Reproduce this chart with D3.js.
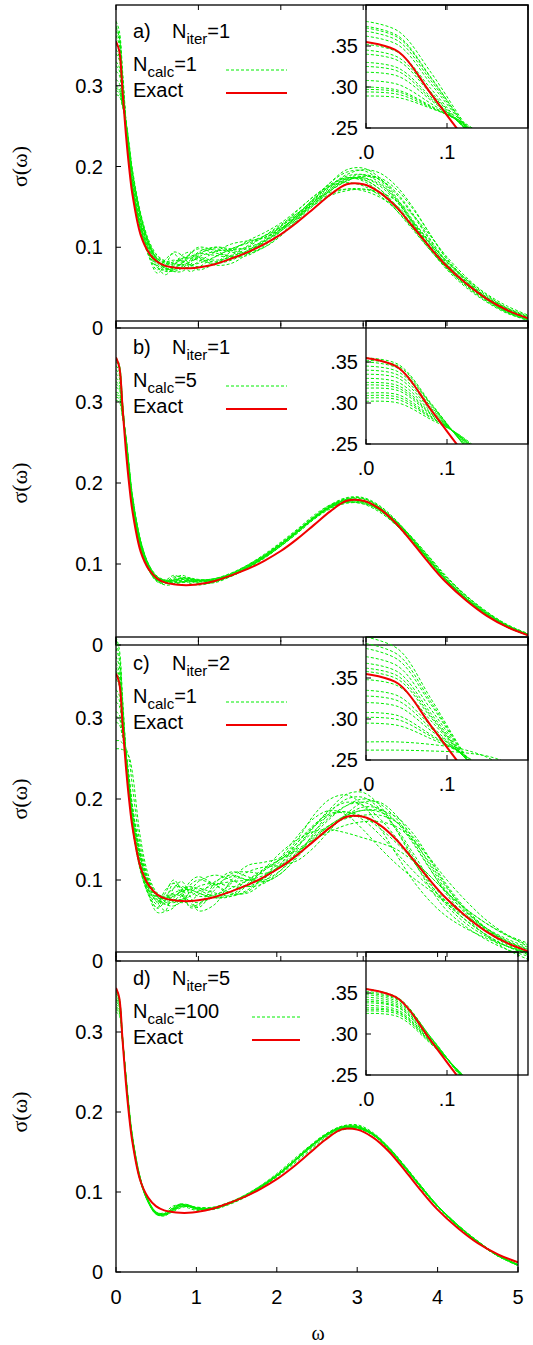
<!DOCTYPE html>
<html><head><meta charset="utf-8">
<script src="https://cdn.jsdelivr.net/npm/d3@7"></script>
<style>body{margin:0;background:#fff} svg{display:block}</style>
</head><body><svg id="c" width="533" height="1345"></svg>
<script>
// ---------------- DATA ----------------
const omega = [0,0.04,0.08,0.12,0.16,0.2,0.3,0.4,0.5,0.6,0.7,0.8,0.9,1.0,1.2,1.4,1.6,1.8,2.0,2.2,2.4,2.6,2.8,3.0,3.2,3.4,3.6,3.8,4.0,4.25,4.5,4.75,5.0];
const exact = [.355,.343,.292,.240,.198,.165,.115,.093,.082,.077,.075,.074,.074,.075,.079,.086,.094,.104,.116,.131,.148,.165,.178,.178,.168,.150,.126,.101,.078,.055,.036,.022,.012];

const panelLetters = ["a)","b)","c)","d)"];
const nIter = [1,1,2,5];
const nCalc = [1,5,1,100];

const greenA = [
[.380,.368,.318,.258,.205,.168,.118,.090,.072,.085,.092,.080,.070,.075,.088,.098,.105,.112,.123,.140,.160,.180,.193,.195,.183,.160,.130,.100,.074,.050,.032,.018,.010],
[.374,.362,.312,.256,.206,.170,.120,.088,.068,.078,.094,.090,.078,.072,.080,.095,.108,.118,.130,.146,.163,.178,.186,.184,.172,.150,.124,.098,.075,.053,.035,.021,.012],
[.368,.356,.308,.255,.207,.172,.122,.093,.078,.070,.072,.082,.092,.098,.093,.090,.096,.108,.122,.140,.160,.176,.188,.190,.180,.158,.130,.101,.076,.052,.033,.019,.010],
[.362,.351,.304,.254,.208,.173,.124,.097,.084,.076,.070,.070,.078,.090,.100,.098,.098,.104,.116,.133,.152,.170,.183,.186,.178,.160,.134,.106,.080,.055,.036,.021,.011],
[.352,.342,.298,.252,.209,.175,.125,.094,.076,.066,.076,.090,.094,.088,.078,.080,.092,.106,.120,.136,.154,.172,.185,.190,.184,.166,.140,.110,.082,.055,.035,.019,.009],
[.340,.332,.292,.251,.210,.177,.127,.098,.082,.074,.074,.080,.088,.092,.090,.088,.094,.108,.126,.145,.163,.176,.180,.176,.164,.146,.124,.100,.078,.056,.038,.024,.014],
[.330,.323,.288,.252,.213,.180,.130,.100,.084,.078,.080,.084,.086,.084,.080,.084,.094,.107,.122,.138,.154,.166,.172,.172,.166,.152,.132,.108,.084,.060,.040,.025,.015],
[.318,.313,.284,.253,.217,.184,.133,.102,.086,.080,.076,.074,.076,.082,.094,.104,.108,.112,.122,.138,.158,.176,.190,.196,.192,.176,.150,.118,.087,.058,.036,.020,.011],
[.308,.303,.280,.254,.220,.188,.136,.103,.084,.074,.072,.076,.084,.094,.100,.096,.094,.100,.114,.134,.156,.174,.185,.186,.176,.157,.132,.105,.080,.055,.036,.021,.012],
[.300,.296,.277,.255,.223,.191,.138,.104,.086,.080,.082,.086,.088,.086,.082,.086,.096,.110,.126,.142,.158,.168,.172,.170,.162,.148,.128,.106,.084,.061,.042,.027,.016],
[.294,.291,.275,.256,.226,.194,.140,.106,.088,.082,.078,.078,.082,.088,.095,.097,.100,.108,.120,.136,.152,.164,.170,.172,.168,.158,.140,.116,.090,.063,.041,.024,.013],
[.289,.287,.274,.257,.228,.196,.142,.108,.090,.083,.080,.078,.078,.080,.088,.098,.106,.114,.124,.138,.154,.170,.182,.188,.186,.172,.148,.118,.088,.060,.038,.022,.012],
[.372,.360,.311,.256,.206,.170,.121,.091,.075,.072,.078,.086,.090,.088,.084,.088,.100,.114,.128,.142,.156,.170,.182,.188,.184,.168,.142,.112,.084,.058,.038,.023,.013],
[.345,.336,.294,.252,.210,.176,.126,.096,.080,.072,.070,.074,.082,.092,.098,.094,.092,.100,.116,.136,.158,.180,.196,.198,.186,.162,.132,.102,.076,.052,.034,.020,.011],
[.325,.319,.286,.252,.214,.181,.131,.101,.086,.082,.084,.082,.078,.076,.080,.090,.102,.114,.126,.140,.156,.172,.184,.184,.172,.152,.128,.103,.080,.057,.038,.024,.014],
[.297,.294,.276,.255,.224,.192,.139,.105,.085,.074,.072,.080,.092,.100,.096,.088,.090,.102,.120,.140,.160,.176,.186,.182,.168,.146,.122,.098,.076,.054,.036,.022,.012]
];
const greenB = [
[.355,.347,.300,.250,.204,.168,.118,.092,.080,.080,.086,.082,.076,.074,.078,.086,.096,.108,.122,.138,.155,.170,.180,.180,.170,.152,.130,.105,.081,.056,.037,.022,.012],
[.350,.342,.298,.250,.205,.170,.119,.092,.078,.076,.082,.086,.082,.077,.077,.085,.096,.109,.124,.141,.158,.172,.180,.178,.167,.149,.127,.103,.080,.056,.037,.022,.012],
[.345,.338,.296,.251,.207,.171,.120,.093,.080,.078,.080,.082,.081,.079,.080,.087,.097,.110,.125,.141,.157,.170,.177,.176,.166,.149,.128,.105,.082,.058,.039,.024,.013],
[.340,.334,.294,.252,.209,.173,.121,.094,.080,.077,.078,.079,.079,.078,.080,.088,.099,.112,.127,.143,.160,.173,.179,.177,.166,.148,.126,.103,.080,.057,.038,.023,.013],
[.335,.330,.292,.253,.210,.174,.122,.094,.079,.074,.075,.078,.080,.080,.082,.088,.098,.110,.124,.140,.156,.169,.176,.175,.166,.150,.130,.107,.084,.060,.040,.024,.013],
[.330,.325,.290,.254,.212,.176,.123,.095,.081,.078,.080,.083,.083,.080,.079,.085,.095,.107,.122,.139,.157,.172,.181,.181,.171,.153,.130,.105,.081,.057,.037,.022,.012],
[.325,.321,.288,.255,.214,.178,.124,.096,.082,.077,.076,.077,.078,.079,.082,.089,.099,.111,.125,.141,.157,.170,.177,.177,.168,.152,.131,.108,.084,.060,.040,.024,.013],
[.318,.315,.286,.256,.216,.180,.126,.097,.083,.079,.078,.078,.078,.078,.080,.086,.096,.109,.124,.140,.157,.171,.179,.178,.168,.151,.129,.105,.082,.058,.038,.023,.012],
[.312,.310,.284,.256,.218,.182,.127,.098,.084,.080,.081,.083,.082,.080,.080,.086,.096,.108,.122,.138,.155,.168,.175,.175,.167,.152,.132,.109,.086,.061,.041,.025,.014],
[.306,.304,.282,.257,.220,.184,.128,.099,.085,.080,.079,.080,.080,.080,.082,.088,.098,.111,.126,.142,.158,.170,.176,.174,.164,.148,.128,.105,.082,.058,.039,.024,.013],
[.302,.300,.280,.258,.222,.185,.129,.099,.084,.079,.079,.081,.082,.081,.080,.085,.095,.108,.123,.140,.158,.173,.182,.182,.172,.154,.131,.106,.082,.057,.037,.022,.012],
[.352,.345,.299,.250,.205,.169,.118,.092,.079,.078,.084,.084,.079,.076,.078,.086,.096,.108,.123,.139,.156,.171,.181,.181,.170,.151,.128,.104,.080,.056,.037,.022,.012],
[.322,.318,.287,.255,.215,.179,.125,.096,.082,.078,.077,.078,.079,.079,.081,.088,.098,.110,.124,.140,.156,.170,.178,.178,.169,.153,.132,.109,.085,.061,.041,.025,.014],
[.309,.307,.283,.257,.219,.183,.128,.098,.084,.080,.080,.081,.081,.080,.081,.087,.097,.109,.124,.140,.157,.171,.179,.178,.168,.150,.128,.105,.082,.058,.038,.023,.012]
];
const greenC = [
[.400,.385,.325,.260,.205,.165,.110,.080,.060,.062,.090,.098,.080,.062,.070,.100,.118,.122,.128,.150,.180,.200,.205,.192,.165,.132,.100,.075,.056,.040,.028,.018,.010],
[.386,.372,.318,.258,.207,.168,.112,.082,.065,.075,.096,.090,.072,.066,.088,.108,.110,.108,.118,.140,.165,.186,.196,.192,.176,.152,.124,.096,.072,.050,.032,.018,.008],
[.376,.364,.312,.257,.208,.170,.114,.084,.070,.088,.096,.082,.068,.070,.092,.104,.100,.100,.112,.132,.156,.176,.192,.200,.194,.176,.148,.116,.084,.054,.031,.014,.002],
[.368,.357,.307,.256,.210,.172,.116,.086,.075,.070,.074,.084,.094,.100,.094,.084,.084,.098,.120,.146,.168,.182,.184,.174,.156,.134,.112,.092,.074,.056,.040,.027,.017],
[.358,.348,.302,.255,.212,.175,.118,.088,.072,.062,.066,.082,.098,.104,.094,.082,.086,.104,.128,.154,.176,.186,.180,.162,.140,.120,.103,.088,.072,.054,.038,.024,.014],
[.348,.340,.298,.255,.214,.178,.121,.090,.076,.072,.078,.088,.092,.088,.080,.086,.100,.114,.126,.136,.148,.164,.180,.190,.188,.172,.146,.115,.086,.060,.040,.025,.015],
[.335,.328,.292,.255,.217,.181,.124,.092,.078,.078,.082,.080,.074,.072,.080,.096,.110,.116,.118,.124,.140,.162,.182,.196,.196,.180,.152,.120,.088,.058,.036,.020,.010],
[.320,.315,.286,.256,.220,.185,.127,.094,.080,.076,.074,.072,.074,.082,.098,.106,.100,.098,.108,.130,.158,.184,.200,.202,.188,.162,.130,.098,.070,.046,.030,.018,.010],
[.308,.304,.281,.256,.223,.188,.130,.096,.082,.080,.084,.088,.088,.084,.078,.080,.094,.114,.134,.150,.160,.162,.158,.152,.146,.138,.124,.106,.086,.064,.046,.031,.020],
[.295,.292,.276,.257,.227,.192,.133,.098,.080,.070,.068,.074,.086,.098,.106,.100,.092,.096,.112,.134,.154,.168,.176,.180,.180,.172,.154,.126,.094,.062,.038,.022,.012],
[.272,.272,.269,.263,.248,.215,.140,.100,.082,.078,.080,.086,.090,.090,.084,.080,.088,.104,.124,.146,.166,.180,.184,.178,.164,.146,.126,.106,.086,.064,.046,.032,.022],
[.262,.262,.261,.259,.252,.232,.150,.104,.084,.078,.076,.076,.080,.086,.094,.098,.100,.106,.118,.134,.152,.168,.180,.186,.186,.178,.158,.128,.096,.064,.040,.022,.010],
[.392,.378,.321,.259,.206,.166,.111,.081,.066,.084,.100,.086,.066,.068,.096,.110,.104,.098,.108,.128,.150,.168,.180,.186,.184,.172,.150,.122,.092,.062,.040,.024,.014],
[.362,.352,.304,.255,.211,.174,.117,.087,.074,.080,.090,.092,.086,.080,.082,.090,.100,.112,.126,.142,.160,.178,.192,.196,.186,.164,.134,.102,.074,.050,.032,.018,.008],
[.328,.322,.289,.255,.218,.183,.125,.093,.079,.074,.072,.076,.084,.092,.096,.092,.092,.102,.120,.142,.166,.188,.206,.208,.192,.162,.126,.092,.064,.042,.026,.014,.006],
[.302,.299,.279,.257,.225,.190,.131,.097,.080,.076,.080,.086,.088,.084,.078,.082,.096,.112,.126,.138,.150,.160,.168,.172,.172,.166,.150,.128,.102,.074,.050,.032,.018]
];
const greenD = [
[.355,.344,.296,.244,.200,.166,.114,.088,.074,.074,.082,.084,.080,.077,.079,.086,.095,.106,.119,.134,.151,.166,.177,.179,.171,.153,.129,.104,.081,.057,.037,.020,.009],
[.352,.342,.296,.245,.201,.167,.115,.088,.073,.072,.080,.085,.082,.078,.079,.086,.095,.106,.120,.136,.153,.168,.178,.180,.171,.153,.130,.105,.082,.057,.037,.020,.009],
[.348,.339,.295,.246,.202,.168,.115,.087,.072,.071,.078,.084,.083,.079,.079,.085,.094,.106,.120,.137,.155,.170,.180,.181,.172,.154,.131,.106,.083,.058,.038,.021,.009],
[.345,.337,.294,.247,.203,.169,.116,.087,.072,.070,.076,.082,.082,.080,.080,.086,.095,.107,.121,.138,.156,.171,.181,.182,.172,.153,.129,.105,.082,.057,.037,.020,.008],
[.342,.335,.293,.247,.204,.170,.116,.088,.073,.071,.075,.080,.082,.081,.081,.087,.096,.108,.122,.138,.155,.170,.179,.180,.171,.153,.130,.106,.083,.059,.038,.021,.009],
[.338,.332,.292,.248,.205,.170,.117,.088,.073,.072,.077,.082,.082,.079,.079,.085,.094,.106,.121,.138,.156,.172,.182,.183,.173,.154,.130,.105,.082,.058,.037,.020,.008],
[.335,.329,.291,.248,.206,.171,.117,.089,.074,.072,.078,.084,.083,.079,.078,.084,.093,.105,.119,.136,.154,.170,.180,.181,.172,.155,.132,.107,.083,.059,.038,.021,.009],
[.332,.327,.290,.249,.207,.172,.118,.089,.074,.073,.079,.085,.084,.080,.079,.085,.094,.106,.120,.137,.155,.171,.182,.184,.174,.155,.131,.106,.082,.058,.037,.020,.008],
[.328,.324,.289,.249,.208,.173,.118,.090,.075,.072,.076,.081,.082,.080,.080,.086,.096,.108,.123,.140,.157,.172,.181,.181,.171,.152,.129,.105,.082,.058,.038,.021,.009],
[.325,.321,.288,.250,.209,.174,.119,.090,.075,.073,.077,.082,.083,.081,.080,.086,.095,.107,.121,.138,.156,.171,.180,.181,.172,.154,.131,.107,.083,.059,.039,.021,.009],
[.350,.341,.296,.246,.202,.167,.115,.088,.073,.072,.079,.084,.082,.079,.080,.086,.095,.107,.121,.137,.154,.169,.179,.180,.171,.153,.130,.105,.082,.058,.038,.021,.009],
[.340,.333,.292,.247,.204,.170,.117,.088,.073,.071,.077,.083,.083,.080,.080,.086,.095,.107,.121,.138,.156,.171,.181,.182,.172,.154,.131,.106,.083,.059,.038,.021,.009],
[.330,.326,.290,.249,.207,.172,.118,.089,.074,.072,.078,.084,.084,.080,.079,.085,.094,.106,.120,.137,.155,.171,.181,.182,.173,.155,.131,.106,.082,.058,.038,.021,.009]
];
const greenSets = [greenA, greenB, greenC, greenD];

const yTicks = [0, 0.1, 0.2, 0.3];
const yTickLabels = ["0", "0.1", "0.2", "0.3"];
const xTicks = [0, 1, 2, 3, 4, 5];
const xTickLabels = ["0", "1", "2", "3", "4", "5"];
const insetYTicks = [0.25, 0.30, 0.35];
const insetYTickLabels = [".25", ".30", ".35"];
const insetXTicks = [0, 0.1];
const insetXTickLabels = [".0", ".1"];

// ---------------- LAYOUT ----------------
const svg = d3.select("#c");
const GREEN = "#00ee00", RED = "#f00000";
const SANS = "'Liberation Sans', Arial, sans-serif";
const SERIF = "'Liberation Serif', 'DejaVu Serif', serif";
const L = 116;
const rights = [528, 528, 528, 518];
const tops = [5, 321, 637, 952];
const bottoms = [328, 645, 961, 1272];
const iL = 366, iR = 528, iH = 123;
const legendSample = [[226,287],[226,287],[226,287],[252,300]];
const defs = svg.append("defs");

greenSets.forEach((greens, p) => {
  const top = tops[p], bot = bottoms[p], R = rights[p];
  const x = d3.scaleLinear().domain([0,5]).range([L,R]);
  const y = d3.scaleLinear().domain([0,0.4]).range([bot, top]);
  const g = svg.append("g");
  const cid = "clip" + p;
  defs.append("clipPath").attr("id", cid).append("rect")
    .attr("x", L).attr("y", top).attr("width", R-L).attr("height", bot-top);
  const line = d3.line().x((d,i)=>x(omega[i])).y(d=>y(d)).curve(d3.curveCatmullRom.alpha(0.5));
  const cg = g.append("g").attr("clip-path", `url(#${cid})`);
  cg.selectAll("path.gr").data(greens).join("path").attr("class","gr")
    .attr("d", line).attr("fill","none").attr("stroke",GREEN)
    .attr("stroke-width",1).attr("stroke-dasharray","3,2");
  cg.append("path").datum(exact).attr("d", line).attr("fill","none")
    .attr("stroke",RED).attr("stroke-width",2);

  // border
  g.append("rect").attr("x",L).attr("y",top).attr("width",R-L).attr("height",bot-top)
    .attr("fill","none").attr("stroke","#000").attr("stroke-width",1.3);
  // y ticks
  yTicks.forEach((t,i) => {
    g.append("line").attr("x1",L).attr("x2",L+5).attr("y1",y(t)).attr("y2",y(t))
      .attr("stroke","#000").attr("stroke-width",1);
    g.append("text").attr("x",103).attr("y",y(t)+7).attr("text-anchor","end")
      .attr("font-family",SANS).attr("font-size",20).text(yTickLabels[i]);
  });
  // x ticks
  xTicks.forEach((t,i) => {
    g.append("line").attr("x1",x(t)).attr("x2",x(t)).attr("y1",bot).attr("y2",bot-5)
      .attr("stroke","#000").attr("stroke-width",1);
    g.append("line").attr("x1",x(t)).attr("x2",x(t)).attr("y1",top).attr("y2",top+5)
      .attr("stroke","#000").attr("stroke-width",1);
    if (p === 3) {
      g.append("text").attr("x",x(t)).attr("y",bot+32).attr("text-anchor","middle")
        .attr("font-family",SANS).attr("font-size",20).text(xTickLabels[i]);
    }
  });
  // y label
  g.append("text").attr("transform",`translate(27,${(top+bot)/2}) rotate(-90)`)
    .attr("text-anchor","middle").attr("font-family",SERIF).attr("font-size",22)
    .text("σ(ω)");

  // legend
  const lt = g.append("g").attr("font-family",SANS).attr("font-size",20);
  lt.append("text").attr("x",133).attr("y",top+33).text(panelLetters[p]);
  const t1 = lt.append("text").attr("x",172).attr("y",top+33);
  t1.append("tspan").text("N");
  t1.append("tspan").attr("font-size",15).attr("dy",6).text("iter");
  t1.append("tspan").attr("dy",-6).text("=" + nIter[p]);
  const t2 = lt.append("text").attr("x",133).attr("y",top+66);
  t2.append("tspan").text("N");
  t2.append("tspan").attr("font-size",15).attr("dy",6).text("calc");
  t2.append("tspan").attr("dy",-6).text("=" + nCalc[p]);
  lt.append("text").attr("x",133).attr("y",top+92).text("Exact");
  const [s0,s1] = legendSample[p];
  g.append("line").attr("x1",s0).attr("x2",s1).attr("y1",top+65).attr("y2",top+65)
    .attr("stroke",GREEN).attr("stroke-width",1).attr("stroke-dasharray","3,2");
  g.append("line").attr("x1",s0).attr("x2",s1).attr("y1",top+88).attr("y2",top+88)
    .attr("stroke",RED).attr("stroke-width",2);

  // inset
  const ix = d3.scaleLinear().domain([0,0.2]).range([iL,iR]);
  const iy = d3.scaleLinear().domain([0.25,0.40]).range([top+iH, top]);
  const icid = "iclip" + p;
  defs.append("clipPath").attr("id", icid).append("rect")
    .attr("x", iL).attr("y", top).attr("width", iR-iL).attr("height", iH);
  const iline = d3.line().x((d,i)=>ix(omega[i])).y(d=>iy(d)).curve(d3.curveCatmullRom.alpha(0.5));
  const ig = g.append("g");
  const icg = ig.append("g").attr("clip-path", `url(#${icid})`);
  icg.selectAll("path.gr").data(greens).join("path").attr("class","gr")
    .attr("d", iline).attr("fill","none").attr("stroke",GREEN)
    .attr("stroke-width",1).attr("stroke-dasharray","3,2");
  icg.append("path").datum(exact).attr("d", iline).attr("fill","none")
    .attr("stroke",RED).attr("stroke-width",2);
  ig.append("rect").attr("x",iL).attr("y",top).attr("width",iR-iL).attr("height",iH)
    .attr("fill","none").attr("stroke","#000").attr("stroke-width",1.3);
  insetYTicks.forEach((t,i) => {
    ig.append("line").attr("x1",iL).attr("x2",iL+5).attr("y1",iy(t)).attr("y2",iy(t))
      .attr("stroke","#000");
    ig.append("text").attr("x",358).attr("y",iy(t)+7).attr("text-anchor","end")
      .attr("font-family",SANS).attr("font-size",20).text(insetYTickLabels[i]);
  });
  insetXTicks.forEach((t,i) => {
    ig.append("line").attr("x1",ix(t)).attr("x2",ix(t)).attr("y1",top+iH).attr("y2",top+iH-5).attr("stroke","#000");
    ig.append("line").attr("x1",ix(t)).attr("x2",ix(t)).attr("y1",top).attr("y2",top+5).attr("stroke","#000");
    ig.append("text").attr("x",ix(t)).attr("y",top+iH+31).attr("text-anchor","middle")
      .attr("font-family",SANS).attr("font-size",20).text(insetXTickLabels[i]);
  });
});

svg.append("text").attr("x",318).attr("y",1340).attr("text-anchor","middle")
  .attr("font-family",SERIF).attr("font-size",20).text("ω");
</script></body></html>
